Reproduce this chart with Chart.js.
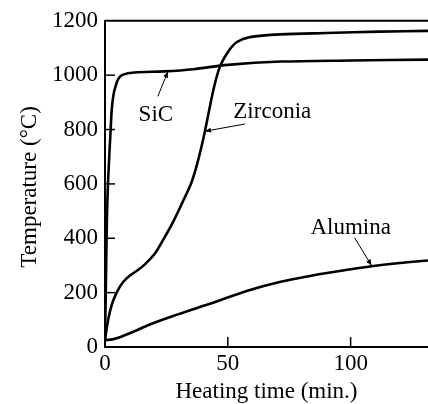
<!DOCTYPE html>
<html><head><meta charset="utf-8">
<script src="https://cdn.jsdelivr.net/npm/chart.js@4/dist/chart.umd.min.js"></script>
<style>html,body{margin:0;padding:0;background:#fff}canvas{display:block}</style>
</head><body>
<canvas id="c" width="428" height="404"></canvas>
<script>
// ---- data ----
const sicTime  = [0, 0.4, 0.8, 1.3, 2.3, 2.8, 3.5, 4.5, 5.5, 7.3, 12, 24, 36, 50, 71.5, 100, 131.5];
const sicTemp  = [25, 250, 480, 620, 800, 880, 930, 965, 988, 1002, 1010, 1014, 1022, 1038, 1050, 1054, 1057];
const zirTime  = [0, 1, 2, 3.3, 5, 7.3, 10, 13.4, 16, 20, 23.6, 28, 31.7, 35.4, 38, 40.6, 43.5, 45.5, 47.2, 50.4, 53.7, 59, 71.5, 90, 112, 131.5];
const zirTemp  = [25, 85, 130, 170, 205, 238, 262, 283, 302, 340, 393, 465, 535, 610, 690, 790, 920, 995, 1040, 1090, 1122, 1140, 1150, 1155, 1160, 1163];
const aluTime  = [0, 3, 6, 12, 18, 28, 38.6, 44, 58, 71.5, 85, 98, 108.5, 120, 131.5];
const aluTemp  = [25, 28, 36, 58, 82, 115, 147, 163, 207, 240, 264, 283, 297, 309, 318];
const xTickValues = [0, 50, 100];
const yTickValues = [0, 200, 400, 600, 800, 1000, 1200];
const xTitle = 'Heating time (min.)';
const yTitle = 'Temperature (°C)';
// labels: text, text position (data), arrow start and end (data)
const labelNames = ['SiC', 'Zirconia', 'Alumina'];
const labelPos   = [[20.7, 830], [68.1, 842], [100, 417]];
const arrowFrom  = [[21.5, 922], [56.9, 820], [101.6, 402]];
const arrowTo    = [[25.6, 1013], [40.7, 794], [108.5, 300]];

const FONT = '"Liberation Serif", "Times New Roman", serif';
const toPts = (xs, ys) => xs.map((x, i) => ({x, y: ys[i]}));

const decor = {
  id: 'decor',
  afterDatasetsDraw(chart) {
    const {ctx, chartArea: a, scales: {x, y}} = chart;
    ctx.save();
    ctx.strokeStyle = '#000';
    ctx.fillStyle = '#000';
    // top frame line
    ctx.lineWidth = 2;
    ctx.beginPath(); ctx.moveTo(a.left, a.top); ctx.lineTo(a.right, a.top); ctx.stroke();
    // inward ticks
    ctx.lineWidth = 1.5;
    yTickValues.forEach(v => {
      if (v === 0 || v === 1200) return;
      const py = y.getPixelForValue(v);
      ctx.beginPath(); ctx.moveTo(a.left, py); ctx.lineTo(a.left + 10, py); ctx.stroke();
    });
    xTickValues.forEach(v => {
      if (v === 0) return;
      const px = x.getPixelForValue(v);
      ctx.beginPath(); ctx.moveTo(px, a.bottom); ctx.lineTo(px, a.bottom - 10); ctx.stroke();
    });
    // annotations
    ctx.font = '23px ' + FONT;
    ctx.textAlign = 'center';
    ctx.textBaseline = 'alphabetic';
    labelNames.forEach((t, i) => {
      ctx.fillText(t, x.getPixelForValue(labelPos[i][0]), y.getPixelForValue(labelPos[i][1]));
      const x0 = x.getPixelForValue(arrowFrom[i][0]), y0 = y.getPixelForValue(arrowFrom[i][1]);
      const x1 = x.getPixelForValue(arrowTo[i][0]), y1 = y.getPixelForValue(arrowTo[i][1]);
      ctx.lineWidth = 1;
      ctx.beginPath(); ctx.moveTo(x0, y0); ctx.lineTo(x1, y1); ctx.stroke();
      const ang = Math.atan2(y1 - y0, x1 - x0), L = 6, W = 2.5;
      ctx.beginPath();
      ctx.moveTo(x1, y1);
      ctx.lineTo(x1 - L * Math.cos(ang) + W * Math.sin(ang), y1 - L * Math.sin(ang) - W * Math.cos(ang));
      ctx.lineTo(x1 - L * Math.cos(ang) - W * Math.sin(ang), y1 - L * Math.sin(ang) + W * Math.cos(ang));
      ctx.closePath(); ctx.fill();
    });
    // axis titles
    ctx.font = '23px ' + FONT;
    ctx.textBaseline = 'alphabetic';
    ctx.fillText(xTitle, (a.left + a.right) / 2, 398);
    ctx.save();
    ctx.translate(36, (a.top + a.bottom) / 2 + 3);
    ctx.rotate(-Math.PI / 2);
    ctx.fillText(yTitle, 0, 0);
    ctx.restore();
    ctx.restore();
  }
};

const ds = (pts) => ({
  data: pts, showLine: true, borderColor: '#000', borderWidth: 2.6,
  pointRadius: 0, fill: false, tension: 0.3
});

new Chart(document.getElementById('c'), {
  type: 'scatter',
  data: { datasets: [ds(toPts(sicTime, sicTemp)), ds(toPts(zirTime, zirTemp)), ds(toPts(aluTime, aluTemp))] },
  options: {
    responsive: false, animation: false, devicePixelRatio: 1,
    layout: { padding: { top: 19, right: 0, left: 0, bottom: 0 } },
    plugins: { legend: { display: false }, tooltip: { enabled: false } },
    scales: {
      x: {
        type: 'linear', min: 0, max: 131.5,
        afterFit(s) { s.height = 57; },
        afterBuildTicks(s) { s.ticks = xTickValues.map(v => ({value: v})); },
        ticks: { includeBounds: false, color: '#000', padding: 3, font: { family: FONT, size: 23 }, callback: v => String(v) },
        grid: { display: false, drawTicks: false },
        border: { display: true, color: '#000', width: 2 }
      },
      y: {
        type: 'linear', min: 0, max: 1200,
        afterFit(s) { s.width = 105; },
        afterBuildTicks(s) { s.ticks = yTickValues.map(v => ({value: v})); },
        ticks: { color: '#000', padding: 7, font: { family: FONT, size: 23 }, callback: v => String(v) },
        grid: { display: false, drawTicks: false },
        border: { display: true, color: '#000', width: 2 }
      }
    }
  },
  plugins: [decor]
});
</script>
</body></html>
